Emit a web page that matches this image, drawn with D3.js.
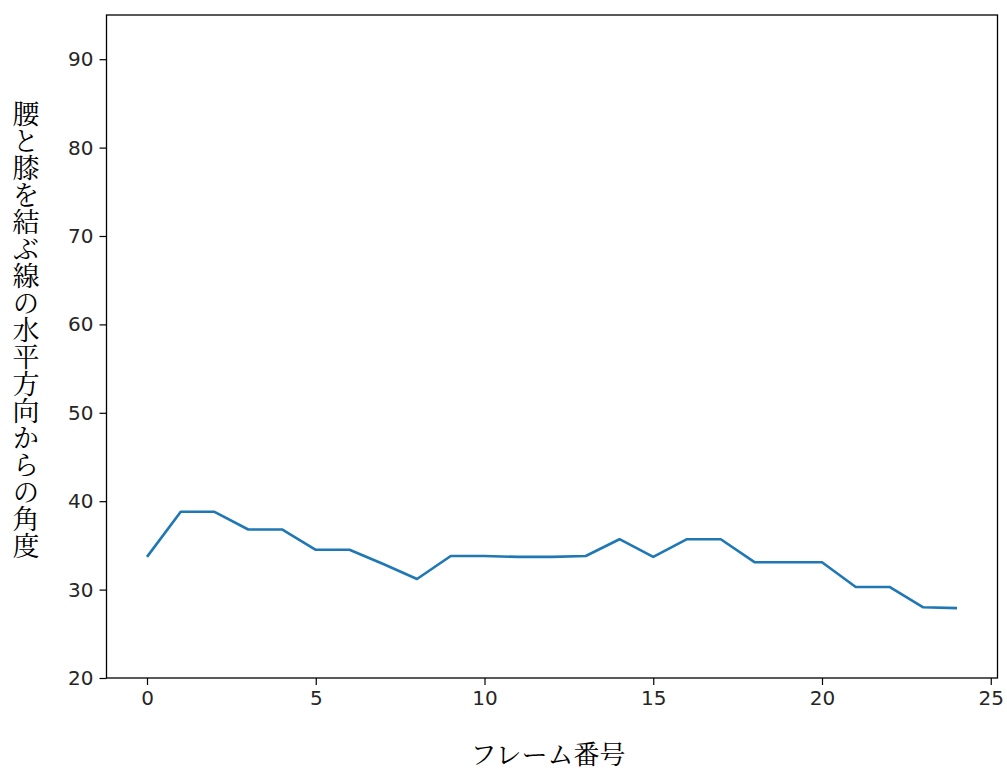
<!DOCTYPE html>
<html><head><meta charset="utf-8">
<script src="https://cdn.jsdelivr.net/npm/d3@7"></script>
<style>body{margin:0;background:#fff}</style>
</head><body>
<svg id="c" width="1007" height="771"></svg>
<script>
const frames = d3.range(0, 25);
const angles = [33.7, 38.8, 38.8, 36.8, 36.8, 34.5, 34.5, 32.9, 31.2, 33.8, 33.8, 33.7, 33.7, 33.8, 35.7, 33.7, 35.7, 35.7, 33.1, 33.1, 33.1, 30.3, 30.3, 28.0, 27.9];
const xTicks = [0, 5, 10, 15, 20, 25];
const yTicks = [20, 30, 40, 50, 60, 70, 80, 90];
const xLabel = "フレーム番号";
const yLabel = "腰と膝を結ぶ線の水平方向からの角度";

const svg = d3.select("#c");
const L = 106.5, R = 997.5, T = 15, B = 678;
const x = d3.scaleLinear().domain([-1.2, 25.2]).range([L, R]);
const y = d3.scaleLinear().domain([20, 95]).range([B, T]);

const tickFont = "'DejaVu Sans', sans-serif";
const xAxis = svg.append("g").attr("transform", `translate(0,${B})`)
  .call(d3.axisBottom(x).tickValues(xTicks).tickSize(7).tickPadding(6).tickFormat(d3.format("d")));
const yAxis = svg.append("g").attr("transform", `translate(${L},0)`)
  .call(d3.axisLeft(y).tickValues(yTicks).tickSize(7).tickPadding(6).tickFormat(d3.format("d")));
[xAxis, yAxis].forEach(a => {
  a.select(".domain").remove();
  a.selectAll(".tick line").attr("stroke", "#000").attr("stroke-width", 1.2);
  a.selectAll(".tick text").attr("fill", "#262626").style("font-family", tickFont).style("font-size", "20px");
});

svg.append("rect").attr("x", L).attr("y", T).attr("width", R - L).attr("height", B - T)
  .attr("fill", "none").attr("stroke", "#000").attr("stroke-width", 1.3);

const line = d3.line().x((d, i) => x(frames[i])).y(d => y(d));
svg.append("path").datum(angles).attr("d", line)
  .attr("fill", "none").attr("stroke", "#1f77b4").attr("stroke-width", 2.6)
  .attr("stroke-linejoin", "round").attr("stroke-linecap", "butt");

const cjk = "'Noto Serif CJK JP', 'IPAMincho', serif, 'Noto Sans CJK JP'";
svg.append("text").attr("x", 548).attr("y", 764).attr("text-anchor", "middle")
  .style("font-family", cjk).style("font-size", "26px").attr("fill", "#000").text(xLabel);

svg.append("text").attr("x", 26).attr("y", 330)
  .style("font-family", cjk).style("font-size", "27px").attr("fill", "#000")
  .style("writing-mode", "vertical-rl").style("text-orientation", "upright")
  .attr("text-anchor", "middle").text(yLabel);
</script>
</body></html>
